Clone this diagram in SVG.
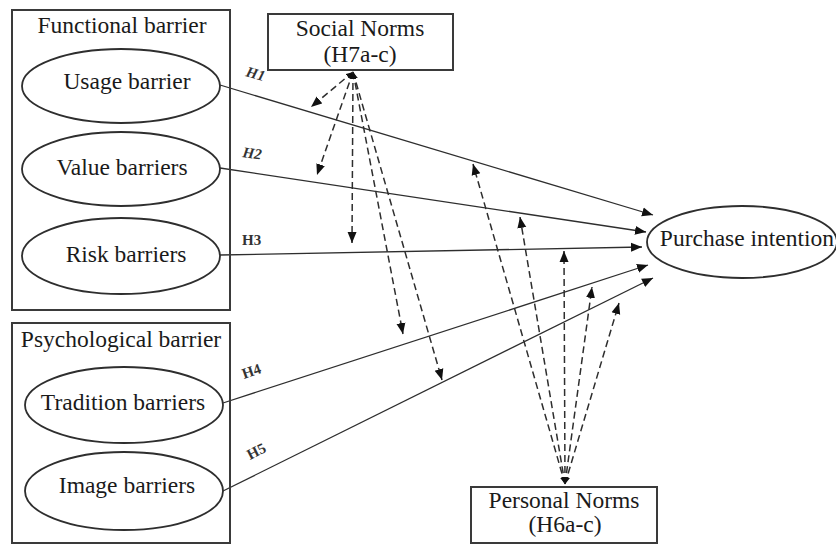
<svg xmlns="http://www.w3.org/2000/svg" width="836" height="544" viewBox="0 0 836 544">
<style>
.box{fill:none;stroke:#3a3a3a;stroke-width:2}
.ell{fill:#fff;stroke:#2e2e2e;stroke-width:1.8}
.t{font-family:"Liberation Serif","Times New Roman",serif;font-size:23.5px;fill:#1a1a1a;text-anchor:middle}
.h{font-family:"Liberation Serif","Times New Roman",serif;font-size:15px;font-weight:bold;fill:#333}
.sol{stroke:#2e2e2e;stroke-width:1.3;fill:none;marker-end:url(#ah)}
.dash{stroke:#2e2e2e;stroke-width:1.5;fill:none;stroke-dasharray:7 4;marker-end:url(#ah);marker-start:url(#as)}
</style>
<defs>
<marker id="ah" markerUnits="userSpaceOnUse" markerWidth="12" markerHeight="10" refX="11" refY="5" orient="auto"><path d="M0,0.5 L11,5 L0,9.5 z" fill="#111"/></marker>
<marker id="as" markerUnits="userSpaceOnUse" markerWidth="8" markerHeight="6" refX="7" refY="3" orient="auto-start-reverse"><path d="M0,0 L7,3 L0,6 z" fill="#111"/></marker>
</defs>
<rect width="836" height="544" fill="#fff"/>
<g id="connectors">
<line class="sol" x1="220" y1="85" x2="653" y2="215"/>
<line class="sol" x1="220" y1="168" x2="646" y2="232"/>
<line class="sol" x1="220" y1="255" x2="642" y2="247"/>
<line class="sol" x1="223" y1="403" x2="648" y2="265"/>
<line class="sol" x1="223" y1="491" x2="653" y2="278"/>
<line class="dash" x1="353" y1="72" x2="311" y2="107"/>
<line class="dash" x1="353" y1="72" x2="317" y2="175"/>
<line class="dash" x1="353" y1="72" x2="352" y2="243"/>
<line class="dash" x1="353" y1="72" x2="403" y2="334"/>
<line class="dash" x1="353" y1="72" x2="442" y2="380"/>
<line class="dash" x1="565" y1="484" x2="473" y2="164"/>
<line class="dash" x1="565" y1="484" x2="520" y2="217"/>
<line class="dash" x1="565" y1="484" x2="564" y2="251"/>
<line class="dash" x1="565" y1="484" x2="592" y2="287"/>
<line class="dash" x1="565" y1="484" x2="619" y2="303"/>
<text class="h" font-style="italic" transform="translate(245,76) rotate(16)">H1</text>
<text class="h" font-style="italic" transform="translate(242,157) rotate(8)">H2</text>
<text class="h" x="242" y="245">H3</text>
<text class="h" transform="translate(244,379) rotate(-19)">H4</text>
<text class="h" transform="translate(250,460) rotate(-27)">H5</text>
</g>
<g id="functional-barrier">
<rect class="box" x="12" y="10" width="218" height="300"/>
<text class="t" x="122" y="33">Functional barrier</text>
</g>
<g id="usage-barrier">
<ellipse class="ell" cx="121" cy="86" rx="99" ry="37"/>
<text class="t" x="127" y="89">Usage barrier</text>
</g>
<g id="value-barriers">
<ellipse class="ell" cx="121" cy="169" rx="99" ry="37"/>
<text class="t" x="122" y="175">Value barriers</text>
</g>
<g id="risk-barriers">
<ellipse class="ell" cx="121" cy="256" rx="99" ry="38"/>
<text class="t" x="126" y="262">Risk barriers</text>
</g>
<g id="psychological-barrier">
<rect class="box" x="12" y="323" width="218" height="220"/>
<text class="t" x="121" y="347">Psychological barrier</text>
</g>
<g id="tradition-barriers">
<ellipse class="ell" cx="124" cy="405" rx="99" ry="38"/>
<text class="t" x="123" y="410">Tradition barriers</text>
</g>
<g id="image-barriers">
<ellipse class="ell" cx="124" cy="491" rx="99" ry="39"/>
<text class="t" x="127" y="493">Image barriers</text>
</g>
<g id="social-norms">
<rect class="box" x="268" y="14" width="185" height="56" fill="#fff"/>
<text class="t" x="360" y="36">Social Norms</text>
<text class="t" x="360" y="62">(H7a-c)</text>
</g>
<g id="personal-norms">
<rect class="box" x="471" y="487" width="186" height="56" fill="#fff"/>
<text class="t" x="564" y="508">Personal Norms</text>
<text class="t" x="565" y="532">(H6a-c)</text>
</g>
<g id="purchase-intention">
<ellipse class="ell" cx="742" cy="242" rx="95" ry="36"/>
<text class="t" x="747" y="246">Purchase intention</text>
</g>
</svg>
